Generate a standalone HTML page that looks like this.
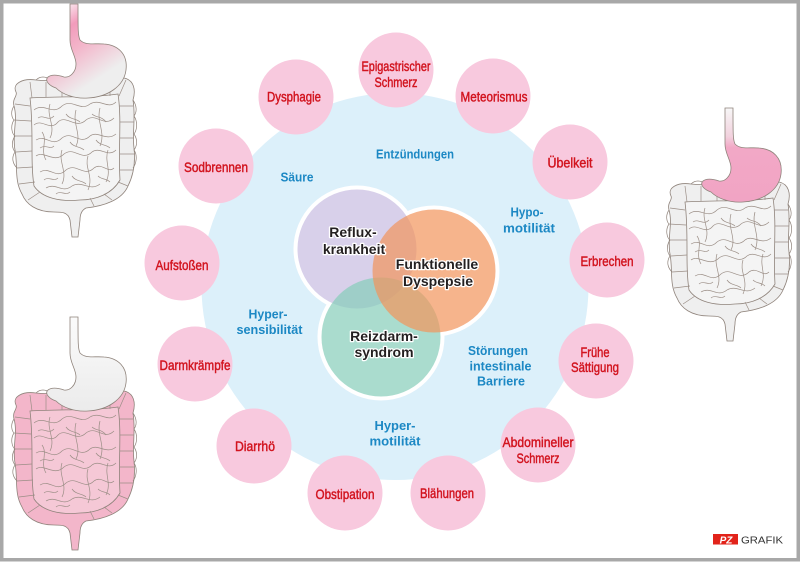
<!DOCTYPE html>
<html><head><meta charset="utf-8"><style>
html,body{margin:0;padding:0;background:#fff}
svg{display:block}
.r{font-family:"Liberation Sans",sans-serif;font-size:14px;fill:#d2141f;stroke:#d2141f;stroke-width:.45;text-anchor:middle}
.b{font-family:"Liberation Sans",sans-serif;font-weight:bold;font-size:13px;fill:#1c88c4;text-anchor:middle}
.v{font-family:"Liberation Sans",sans-serif;font-weight:bold;font-size:14px;fill:#231f20;stroke:#fff;stroke-width:2.6;stroke-linejoin:round;paint-order:stroke;text-anchor:middle}
</style></head><body>
<svg width="800" height="562" viewBox="0 0 800 562" xmlns="http://www.w3.org/2000/svg">
<defs>
<linearGradient id="gA" x1="0.2" y1="0" x2="0.75" y2="1">
<stop offset="0" stop-color="#fbf3f6"/><stop offset="0.22" stop-color="#f29bbb"/><stop offset="0.45" stop-color="#f3b7cb"/><stop offset="0.8" stop-color="#eeeeee"/></linearGradient>
<linearGradient id="gB" x1="0" y1="0" x2="0" y2="1">
<stop offset="0" stop-color="#f7f7f7"/><stop offset="0.3" stop-color="#f2d2de"/><stop offset="0.42" stop-color="#f2a8c6"/><stop offset="1" stop-color="#f1a4c4"/></linearGradient>
<linearGradient id="gC" x1="0" y1="0" x2="0" y2="1">
<stop offset="0" stop-color="#fbfbfb"/><stop offset="1" stop-color="#ebebeb"/></linearGradient>
<g id="org">
<path style="fill:var(--co)" stroke="#8f837b" stroke-width=".8" d="M16 92 C12 84 22 78 36 80 C52 82 62 78 78 80 C94 82 108 76 124 78 C134 80 136 90 133 100 C136 118 132 132 134 148 C136 166 132 178 128 186 C122 200 104 206 86 208 C82 210 80 214 80 220 L78 237 L72 237 L70 220 C68 212 62 212 54 212 C36 212 26 204 22 194 C14 180 18 166 15 150 C12 134 18 120 14 106 C12 98 18 96 16 92 Z"/>
<path fill="none" stroke="#8f837b" stroke-width=".7" d="M14 106 C10 112 12 118 14 120 C10 126 12 134 15 136 C11 142 12 148 15 152 C11 158 13 164 17 168 M133 100 C137 106 137 112 134 116 C138 122 137 130 134 134 C138 140 137 146 134 150 C138 156 136 164 133 168 M36 80 C40 76 46 76 50 80 C54 76 60 76 64 79 C68 76 74 76 78 80 C82 76 90 76 94 80 C98 75 104 75 108 79"/>
<path style="fill:var(--si)" stroke="#8f837b" stroke-width=".8" d="M30 98 C60 96 90 98 118 94 C122 120 118 150 120 180 C112 194 96 200 80 200 C60 202 42 198 34 186 C30 160 34 130 30 98 Z"/>
<g fill="none" stroke="#9b8e86" stroke-width=".7">
<path d="M34 110 C44 102 52 116 62 106 C72 98 80 112 90 104 C100 98 108 110 116 102"/>
<path d="M34 125 C42 118 50 132 58 122 C66 114 76 130 86 120 C96 112 104 128 114 118"/>
<path d="M36 140 C46 134 52 148 62 138 C72 130 80 146 90 136 C98 130 106 142 116 134"/>
<path d="M36 156 C44 150 54 164 64 154 C74 146 82 162 92 152 C100 146 108 158 116 150"/>
<path d="M40 172 C50 166 56 180 66 170 C76 162 84 178 94 168 C102 162 108 174 114 168"/>
<path d="M46 188 C56 182 62 194 72 186 C82 180 90 192 100 184"/>
<path d="M50 104 C46 116 56 126 50 138"/><path d="M76 110 C72 124 82 134 76 146"/>
<path d="M100 108 C96 122 106 132 100 146"/><path d="M62 150 C58 162 68 172 62 184"/>
<path d="M88 156 C84 168 94 176 88 190"/><path d="M42 132 C48 140 40 150 46 160"/>
<path d="M108 150 C104 162 112 170 106 182"/>
<path d="M38 118 C44 114 48 122 54 116 M66 114 C70 120 76 118 80 122 M92 114 C96 118 102 116 106 122 M40 148 C46 144 50 150 54 146 M70 142 C74 148 80 146 84 150 M96 140 C100 146 106 144 110 148 M44 180 C48 176 54 182 58 178 M72 176 C76 182 82 180 86 184 M98 176 C102 180 106 178 110 182 M56 194 C60 190 66 196 70 192"/>
<path d="M15 104 L30 106 M14 120 L31 121 M15 136 L32 136 M16 152 L32 151 M17 168 L33 167 M19 184 L35 182 M28 200 L40 192"/>
<path d="M30 82 L32 98 M46 82 L46 97 M62 80 L62 97 M78 81 L78 98 M94 80 L94 98 M110 78 L110 96 M126 80 L119 96"/>
<path d="M133 106 L119 106 M134 122 L120 122 M134 138 L120 138 M135 154 L120 154 M133 170 L120 170 M128 186 L118 182 M112 200 L104 194 M94 206 L90 198"/>
</g>
<path style="fill:var(--st)" stroke="#8f837b" stroke-width=".8" d="M70 4 L70 40 C70 50 76 56 76 64 C76 72 70 78 64 77 C58 75 52 74 48 77 C44 81 50 86 56 88 C62 94 74 99 88 98 C108 97 124 86 126 70 C128 54 118 45 104 44 C94 43 86 46 80 40 C78 36 78 30 78 4 Z"/>
</g>
</defs>

<rect x="0" y="0" width="800" height="562" fill="#fff"/>

<!-- organs -->
<use href="#org" style="--st:url(#gA);--co:#efefef;--si:#f4f4f4"/>
<use href="#org" transform="translate(0,313)" style="--st:url(#gC);--co:#f3b6ca;--si:#f5c8d6"/>
<use href="#org" transform="translate(655,104)" style="--st:url(#gB);--co:#efefef;--si:#f4f4f4"/>

<!-- big blue circle -->
<circle cx="395" cy="286.5" r="193.5" fill="#dcf0fa"/>

<!-- pink circles -->
<g fill="#f8c9de">
<circle cx="396" cy="70" r="37.5"/>
<circle cx="493" cy="96" r="37.5"/>
<circle cx="570" cy="162" r="37.5"/>
<circle cx="607" cy="260" r="37.5"/>
<circle cx="596" cy="361" r="37.5"/>
<circle cx="538" cy="445" r="37.5"/>
<circle cx="448" cy="493" r="37.5"/>
<circle cx="345" cy="493" r="37.5"/>
<circle cx="254" cy="446" r="37.5"/>
<circle cx="195" cy="364" r="37.5"/>
<circle cx="182" cy="263" r="37.5"/>
<circle cx="216" cy="166" r="37.5"/>
<circle cx="296" cy="97" r="37.5"/>
</g>

<!-- red labels -->
<text class="r" x="396" y="71" textLength="69" lengthAdjust="spacingAndGlyphs">Epigastrischer</text>
<text class="r" x="396" y="87" textLength="43" lengthAdjust="spacingAndGlyphs">Schmerz</text>
<text class="r" x="494" y="101.5" textLength="67" lengthAdjust="spacingAndGlyphs">Meteorismus</text>
<text class="r" x="570" y="167.5" textLength="45" lengthAdjust="spacingAndGlyphs">Übelkeit</text>
<text class="r" x="607" y="266" textLength="53" lengthAdjust="spacingAndGlyphs">Erbrechen</text>
<text class="r" x="595" y="357" textLength="29" lengthAdjust="spacingAndGlyphs">Frühe</text>
<text class="r" x="595" y="372" textLength="48" lengthAdjust="spacingAndGlyphs">Sättigung</text>
<text class="r" x="538" y="447" textLength="71" lengthAdjust="spacingAndGlyphs">Abdomineller</text>
<text class="r" x="538" y="463" textLength="43" lengthAdjust="spacingAndGlyphs">Schmerz</text>
<text class="r" x="447" y="498" textLength="54" lengthAdjust="spacingAndGlyphs">Blähungen</text>
<text class="r" x="345" y="499" textLength="59" lengthAdjust="spacingAndGlyphs">Obstipation</text>
<text class="r" x="255" y="451" textLength="40" lengthAdjust="spacingAndGlyphs">Diarrhö</text>
<text class="r" x="195" y="370" textLength="71" lengthAdjust="spacingAndGlyphs">Darmkrämpfe</text>
<text class="r" x="182" y="270" textLength="53" lengthAdjust="spacingAndGlyphs">Aufstoßen</text>
<text class="r" x="216" y="172" textLength="64" lengthAdjust="spacingAndGlyphs">Sodbrennen</text>
<text class="r" x="294" y="101.5" textLength="54" lengthAdjust="spacingAndGlyphs">Dysphagie</text>

<!-- blue labels -->
<text class="b" x="415" y="158.3" textLength="78" lengthAdjust="spacingAndGlyphs">Entzündungen</text>
<text class="b" x="297" y="181.7" textLength="33" lengthAdjust="spacingAndGlyphs">Säure</text>
<text class="b" x="527" y="216.7" textLength="33" lengthAdjust="spacingAndGlyphs">Hypo-</text>
<text class="b" x="529" y="232.3" textLength="52" lengthAdjust="spacingAndGlyphs">motilität</text>
<text class="b" x="498" y="355" textLength="60" lengthAdjust="spacingAndGlyphs">Störungen</text>
<text class="b" x="500.5" y="370.5" textLength="62" lengthAdjust="spacingAndGlyphs">intestinale</text>
<text class="b" x="501" y="385.7" textLength="48" lengthAdjust="spacingAndGlyphs">Barriere</text>
<text class="b" x="268" y="318.3" textLength="39" lengthAdjust="spacingAndGlyphs">Hyper-</text>
<text class="b" x="269.5" y="334" textLength="66" lengthAdjust="spacingAndGlyphs">sensibilität</text>
<text class="b" x="395" y="430" textLength="41" lengthAdjust="spacingAndGlyphs">Hyper-</text>
<text class="b" x="395" y="445.7" textLength="51" lengthAdjust="spacingAndGlyphs">motilität</text>

<!-- venn -->
<g fill="#fff">
<circle cx="357" cy="249" r="63.5"/>
<circle cx="434" cy="271" r="65.5"/>
<circle cx="381" cy="337" r="63.5"/>
</g>
<circle cx="357" cy="249" r="59.5" fill="#d8d0ea"/>
<circle cx="381" cy="337" r="59.5" fill="#86cdb9" fill-opacity="0.7"/>
<circle cx="434" cy="271" r="61.5" fill="#f2945b" fill-opacity="0.7"/>

<text class="v" x="353" y="237">Reflux-</text>
<text class="v" x="354" y="254">krankheit</text>
<text class="v" x="437" y="269">Funktionelle</text>
<text class="v" x="438" y="286">Dyspepsie</text>
<text class="v" x="384" y="341">Reizdarm-</text>
<text class="v" x="384" y="357">syndrom</text>

<!-- logo -->
<rect x="713" y="534" width="25" height="10.5" fill="#e2231a"/>
<text x="726" y="543.3" font-family="Liberation Sans, sans-serif" font-weight="bold" font-style="italic" font-size="10" fill="#fff" text-anchor="middle">PZ</text>
<text x="741" y="543.5" font-family="Liberation Sans, sans-serif" font-size="10.5" fill="#333" textLength="42" lengthAdjust="spacingAndGlyphs">GRAFIK</text>

<!-- frame -->
<rect x="1.75" y="1.75" width="796.5" height="558" fill="none" stroke="#a8a8a8" stroke-width="3.5"/>
</svg>
</body></html>
